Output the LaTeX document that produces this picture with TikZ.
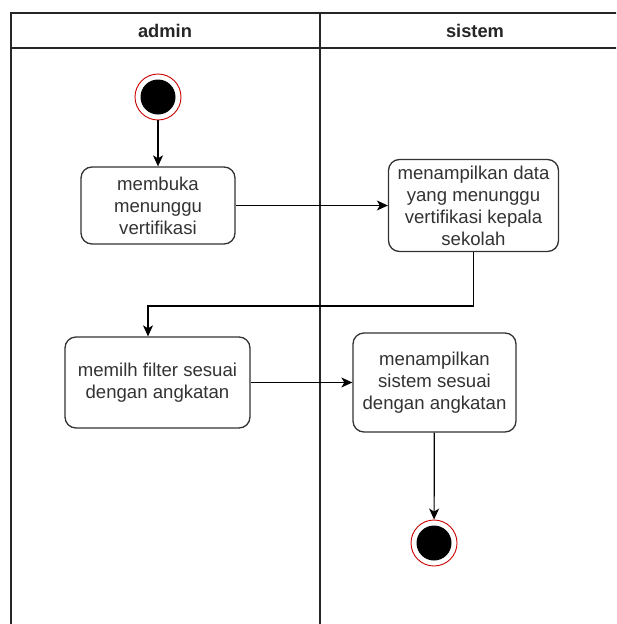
\documentclass[tikz,border=0pt]{standalone}
\usepackage{fontspec}
\setmainfont{Liberation Sans}
\usetikzlibrary{arrows.meta}
\begin{document}
\begin{tikzpicture}[x=1pt,y=-1pt,
  lane/.style={draw=black!85, line width=1.4pt},
  actbox/.style={draw=black!80, line width=1.3pt, rounded corners=11pt, fill=white,
    align=center, inner sep=0pt, font=\fontsize{18.6}{22}\selectfont, text=black!80},
  hdr/.style={font=\bfseries\fontsize{18.3}{22}\selectfont, text=black!85},
  flow/.style={draw=black, line width=1.2pt, -{Stealth[length=11pt,width=10pt,inset=3pt]}},
  ring/.style={circle, draw=red!80!black, line width=0.9pt, fill=white, minimum size=46pt, inner sep=0pt},
  dot/.style={circle, fill=black, minimum size=35pt, inner sep=0pt}
]
\useasboundingbox (0,0) rectangle (616,624);
\clip (0,0) rectangle (616,624);
\fill[white] (0,0) rectangle (616,624);
% swimlanes
\draw[lane] (11,640) -- (11,13) -- (640,13);
\draw[lane] (11,48) -- (640,48);
\draw[lane] (320,13) -- (320,640);
\node[hdr] (hadmin) at (165,31) {admin};
\node[hdr] (hsistem) at (475,31) {sistem};
% start
\node[ring] (start) at (158,97) {};
\node[dot] (startdot) at (158,97) {};
% boxes
\node[actbox, minimum width=154pt, minimum height=77pt] (b1) at (158,205.5) {membuka\\menunggu\\vertifikasi};
\node[actbox, minimum width=170pt, minimum height=92pt] (b2) at (473.5,205.5) {menampilkan data\\yang menunggu\\vertifikasi kepala\\sekolah};
\node[actbox, minimum width=185pt, minimum height=91pt] (b3) at (157.5,382.5) {memilh filter sesuai\\dengan angkatan};
\node[actbox, minimum width=163pt, minimum height=99pt] (b4) at (434.5,382.5) {menampilkan\\sistem sesuai\\dengan angkatan};
% end
\node[ring] (end) at (434,543) {};
\node[dot] (enddot) at (434,543) {};
% connectors
\draw[flow] (start) -- (b1);
\draw[flow] (b1) -- (b2);
\coordinate (k) at (148,306);
\draw[flow] (b2.south) |- (k) -- (k |- b3.north);
\draw[flow] (b3) -- (b4);
\draw[flow] (b4) -- (end);
\end{tikzpicture}
\end{document}
